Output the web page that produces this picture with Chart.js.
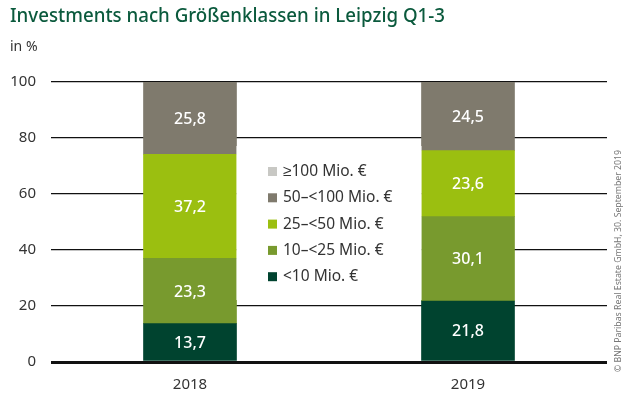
<!DOCTYPE html>
<html><head><meta charset="utf-8">
<script src="https://cdn.jsdelivr.net/npm/chart.js@4.4.1/dist/chart.umd.min.js"></script>
<style>html,body{margin:0;padding:0;background:#fff}#wrap{width:637px;height:410px}</style>
</head><body><div id="wrap"><canvas id="c" width="637" height="410"></canvas></div>
<script>
const categories = ["2018", "2019"];
const seriesLabels = ["<10 Mio. €", "10–<25 Mio. €", "25–<50 Mio. €", "50–<100 Mio. €", "≥100 Mio. €"];
const lt10 = [13.7, 21.8];
const s10to25 = [23.3, 30.1];
const s25to50 = [37.2, 23.6];
const s50to100 = [25.8, 24.5];
const ge100 = [0, 0];
const yTicks = [0, 20, 40, 60, 80, 100];
const colors = ["#00432f", "#789a2e", "#9bbf10", "#7f7a6d", "#c8c8c4"];
const titleText = "Investments nach Größenklassen in Leipzig Q1-3";
const unitText = "in %";
const sourceText = "© BNP Paribas Real Estate GmbH, 30. September 2019";
const FONT = "'Noto Sans', sans-serif";

const values = [lt10, s10to25, s25to50, s50to100, ge100];

const overlay = {
  id: 'overlay',
  afterDatasetsDraw(chart) {
    const ctx = chart.ctx;
    // data labels
    ctx.save();
    ctx.fillStyle = '#fff';
    ctx.font = "500 16px " + FONT;
    ctx.textAlign = 'center';
    ctx.textBaseline = 'middle';
    chart.data.datasets.forEach((ds, i) => {
      const meta = chart.getDatasetMeta(i);
      meta.data.forEach((bar, j) => {
        const v = ds.data[j];
        if (!v) return;
        const yc = (bar.y + bar.base) / 2;
        ctx.fillText(v.toFixed(1).replace('.', ','), bar.x, yc + 1);
      });
    });
    ctx.restore();
    // legend with white backing between bars
    const m = chart.getDatasetMeta(0);
    const b0 = m.data[0], b1 = m.data[1];
    const xL = b0.x + b0.width / 2, xR = b1.x - b1.width / 2;
    ctx.save();
    ctx.fillStyle = '#fff';
    ctx.fillRect(xL, 146, xR - xL, 154);
    ctx.font = "15.5px " + FONT;
    ctx.textBaseline = 'middle';
    ctx.textAlign = 'left';
    for (let k = 0; k < seriesLabels.length; k++) {
      const idx = seriesLabels.length - 1 - k;
      const yc = 171.5 + k * 26.3;
      ctx.fillStyle = colors[idx];
      ctx.fillRect(268, yc - 4.5, 9, 9);
      ctx.fillStyle = '#333';
      ctx.fillText(seriesLabels[idx], 283, yc);
    }
    ctx.restore();
  },
  afterDraw(chart) {
    const ctx = chart.ctx;
    ctx.save();
    ctx.fillStyle = '#0b5a3d';
    ctx.font = "500 19px " + FONT;
    ctx.textBaseline = 'alphabetic';
    ctx.textAlign = 'left';
    let w = ctx.measureText(titleText).width;
    ctx.save();
    ctx.translate(10, 22);
    ctx.scale(435 / w, 1);
    ctx.fillText(titleText, 0, 0);
    ctx.restore();
    ctx.fillStyle = '#333';
    ctx.font = "14px " + FONT;
    ctx.fillText(unitText, 10, 51);
    // source vertical
    ctx.fillStyle = '#777';
    ctx.font = "9px " + FONT;
    w = ctx.measureText(sourceText).width;
    ctx.translate(621, 372);
    ctx.rotate(-Math.PI / 2);
    ctx.scale(222 / w, 1);
    ctx.fillText(sourceText, 0, 0);
    ctx.restore();
  }
};

new Chart(document.getElementById('c'), {
  type: 'bar',
  data: {
    labels: categories,
    datasets: seriesLabels.map((lab, i) => ({
      label: lab,
      data: values[i],
      backgroundColor: colors[i],
      borderWidth: 0,
      barThickness: 93
    }))
  },
  options: {
    responsive: false,
    animation: false,
    devicePixelRatio: 1,
    layout: { padding: { top: 82, right: 30, left: 0, bottom: 0 } },
    plugins: { legend: { display: false }, tooltip: { enabled: false }, title: { display: false } },
    scales: {
      x: {
        stacked: true,
        grid: { display: false },
        border: { display: false },
        ticks: { color: '#333', font: { family: FONT, size: 15 }, padding: 6 },
        afterFit(s) { s.height = 48; }
      },
      y: {
        stacked: true,
        min: 0, max: 100,
        afterBuildTicks(s) { s.ticks = yTicks.map(v => ({ value: v })); },
        grid: {
          color: '#111',
          lineWidth: c => (c.tick && c.tick.value === 0 ? 3 : 1.3),
          drawTicks: false
        },
        border: { display: false },
        ticks: { color: '#333', font: { family: FONT, size: 15 }, padding: 15 },
        afterFit(s) { s.width = 51; }
      }
    }
  },
  plugins: [overlay]
});
</script></body></html>
